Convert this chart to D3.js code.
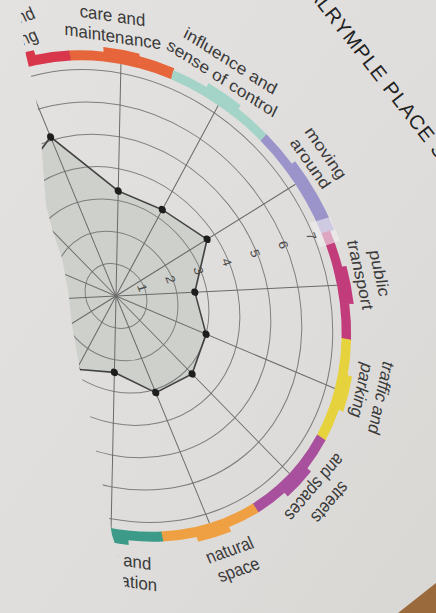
<!DOCTYPE html>
<html>
<head>
<meta charset="utf-8">
<title>Place Standard</title>
<style>
body { margin: 0; background: #dedcd9; }
text { font-family: "Liberation Sans", Arial, sans-serif; }
</style>
</head>
<body>
<svg width="436" height="613"></svg>
<script src="https://d3js.org/d3.v7.min.js"></script>
<script>
// clockwise from the top; "|" marks the line break in the label
var categories = ["care and|maintenance", "influence and|sense of control", "moving|around", "public|transport",
    "traffic and|parking", "streets|and spaces", "natural|space", "play and|recreation",
    "facilities and|amenities", "work and|local economy", "housing and|community", "social|interaction",
    "feeling|safe", "identity and|belonging"];
var scores = [3.3, 3.3, 3.7, 2.6, 3.0, 3.2, 3.1, 2.4, 2.8, 3.5, 4.0, 4.5, 4.4, 5.1];
var ringTicks = [1, 2, 3, 4, 5, 6, 7];
// stepped outer band, three parts per theme
var bandSteps = [[1, 2, 1.5], [1, 2, 1], [1, 2, 2], [1, 2, 1], [1, 2, 1], [1, 2, 1], [1, 2, 1],
    [1, 2, 1], [1, 2, 1], [1, 2, 1], [1, 2, 1], [1, 2, 1], [1, 2, 1], [2, 2, 1]];
var sectorColors = ["#e7653b", "#a4d4c8", "#9a94cb", "#c23b7b", "#e5d23c", "#a84f9d", "#efa043",
    "#3b9a88", "#78b44a", "#4a7fc1", "#f1c13f", "#8cc43f", "#2e7bb6", "#d8364a"];
var title = "DALRYMPLE PLACE STANDARD";

var W = 436, H = 613;
var svg = d3.select("svg");
var defs = svg.append("defs");

var grad = defs.append("linearGradient").attr("id", "paper")
    .attr("x1", 0).attr("y1", 0).attr("x2", 1).attr("y2", 1);
grad.append("stop").attr("offset", "0%").attr("stop-color", "#e4e2e0");
grad.append("stop").attr("offset", "60%").attr("stop-color", "#dfdddb");
grad.append("stop").attr("offset", "100%").attr("stop-color", "#d9d7d4");
svg.append("rect").attr("width", W).attr("height", H).attr("fill", "url(#paper)");

// edge of the printed page (the left part of the wheel is cut off in the photo)
var pageEdge = [[20, 0], [22, 30], [26, 55], [32, 80], [40, 120], [43, 167], [46, 205], [53, 232], [62, 258],
    [68, 290], [72, 325], [80, 370], [86, 395], [92, 425], [98, 463], [106, 500], [112, 535], [117, 550],
    [121, 568], [126, 592], [128, 613], [W, 613], [W, 0]];
defs.append("clipPath").attr("id", "page")
    .append("path").attr("d", d3.line()(pageEdge) + "Z");

// photo is taken at an angle -> slight affine skew
var chart = svg.append("g").attr("clip-path", "url(#page)")
    .append("g").attr("transform", "matrix(0.994 0.185 -0.0217 1.022 116 296)");

var n = categories.length;
var step = 2 * Math.PI / n;
var r = d3.scaleLinear().domain([0, 7]).range([0, 218]);
var bandInner = 227;
var bandOuter = d3.scaleLinear().domain([0, 2]).range([bandInner + 5, bandInner + 14]);
var ang = function(i) { return i * step; };

// score polygon fill
var radial = d3.lineRadial()
    .angle(function(d, i) { return ang(i); })
    .radius(function(d) { return r(d); })
    .curve(d3.curveLinearClosed);
chart.append("path").attr("d", radial(scores))
    .attr("fill", "#cdd0cb").attr("stroke", "none");

// rings
chart.selectAll(".ring").data(ringTicks).join("circle")
    .attr("class", "ring")
    .attr("r", function(d) { return r(d); })
    .attr("fill", "none").attr("stroke", "#7e7e7e").attr("stroke-width", 1);

// spokes
chart.selectAll(".spoke").data(categories).join("line")
    .attr("class", "spoke")
    .attr("x1", 0).attr("y1", 0)
    .attr("x2", function(d, i) { return Math.sin(ang(i)) * bandInner; })
    .attr("y2", function(d, i) { return -Math.cos(ang(i)) * bandInner; })
    .attr("stroke", "#6a6a6a").attr("stroke-width", 1);

// coloured band
var arc = d3.arc();
var pieces = [];
bandSteps.forEach(function(s, i) {
    s.forEach(function(lv, j) {
        pieces.push({
            innerRadius: bandInner,
            outerRadius: bandOuter(lv),
            startAngle: ang(i) - step / 2 + j * step / 3,
            endAngle: ang(i) - step / 2 + (j + 1) * step / 3 + 0.002,
            color: sectorColors[i]
        });
    });
});
chart.selectAll(".band").data(pieces).join("path")
    .attr("class", "band")
    .attr("d", arc)
    .attr("fill", function(d) { return d.color; });

// polygon outline and points
chart.append("path").attr("d", radial(scores))
    .attr("fill", "none").attr("stroke", "#444").attr("stroke-width", 1.6);
chart.selectAll(".pt").data(scores).join("circle")
    .attr("class", "pt")
    .attr("cx", function(d, i) { return Math.sin(ang(i)) * r(d); })
    .attr("cy", function(d, i) { return -Math.cos(ang(i)) * r(d); })
    .attr("r", 3.6).attr("fill", "#1e1e1e");

// ring numbers on the bisector between moving around and public transport
var tickAngle = (ang(2) + ang(3)) / 2;
var tickDeg = tickAngle * 180 / Math.PI;
chart.append("rect")
    .attr("transform", "rotate(" + tickDeg + ") translate(0," + (-bandInner - 4) + ")")
    .attr("x", -12).attr("y", -11).attr("width", 24).attr("height", 22)
    .attr("fill", "#f2eef0").attr("opacity", 0.6);
chart.selectAll(".tick").data(ringTicks).join("text")
    .attr("class", "tick")
    .attr("transform", function(d) { return "rotate(" + tickDeg + ") translate(0," + (-(r(d) - 2)) + ")"; })
    .attr("text-anchor", "middle").attr("dy", "0.35em")
    .attr("font-size", 13).attr("fill", "#4a4a4a")
    .text(function(d) { return d; });

// theme labels (printed a touch anticlockwise of the spokes)
var lh = 20;
var labelShift = -0.035;
chart.selectAll(".lab").data(categories).join("g")
    .attr("class", "lab")
    .each(function(c, i) {
        var a = ang(i) + labelShift;
        var flip = Math.cos(a) < -0.8;
        var R = bandOuter(2) + 6;
        var g = d3.select(this)
            .attr("transform", "rotate(" + (a * 180 / Math.PI) + ") translate(0," + (-R) + ")" + (flip ? " rotate(180)" : ""));
        var lines = c.split("|");
        lines.forEach(function(t, j) {
            g.append("text")
                .attr("y", flip ? 15 + j * lh : -(lines.length - 1 - j) * lh)
                .attr("text-anchor", "middle")
                .attr("font-size", 17).attr("fill", "#3a3a3a")
                .text(t);
        });
    });

// page title, running off the top corner
svg.append("text")
    .attr("transform", "translate(298,-19) rotate(52)")
    .attr("font-size", 20).attr("letter-spacing", 1).attr("fill", "#222")
    .text(title);

// something brown on the table in the corner
svg.append("path")
    .attr("d", d3.line()([[398, 613], [436, 583], [436, 613]]) + "Z")
    .attr("fill", "#9a6a3c");
</script>
</body>
</html>
